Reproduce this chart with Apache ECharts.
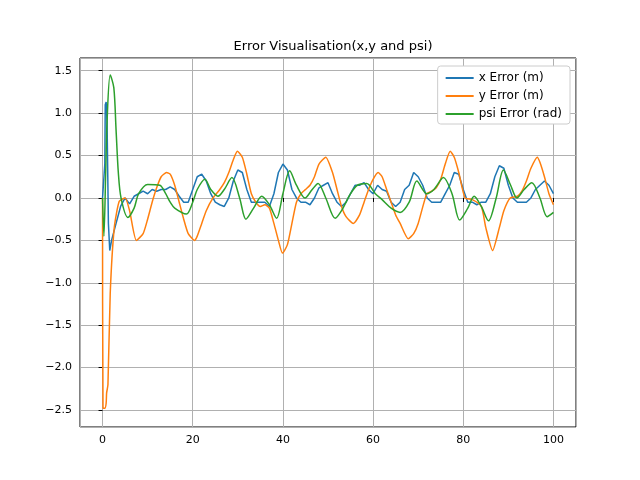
<!DOCTYPE html>
<html>
<head>
<meta charset="utf-8">
<script src="https://cdn.jsdelivr.net/npm/echarts@6/dist/echarts.min.js"></script>
<style>body{margin:0}#chart{width:640px;height:480px}</style>
</head>
<body>
<div id="chart"></div>
<script>
// values
var xTime = [0,0.5,0.6,0.8,1,1.3,1.6,2,3,4,5,6,7,8,9,10,11,12,13,14,15,16,17,18,19,20,21,22,23,24,25,26,27,28,29,30,31,32,33,34,35,36,37,38,39,40,41,42,43,44,45,46,47,48,49,50,51,52,53,54,55,56,57,58,59,60,61,62,63,64,65,66,67,68,69,70,71,72,73,74,75,76,77,78,79,80,81,82,83,84,85,86,87,88,89,90,91,92,93,94,95,96,97,98,99,100];
var xErr = [0,0.4,1.1,1.13,0.9,-0.3,-0.62,-0.5,-0.3,-0.1,0.0,-0.07,0.02,0.05,0.08,0.05,0.1,0.08,0.1,0.1,0.13,0.1,0.02,-0.05,-0.05,0.1,0.25,0.28,0.2,0.05,-0.05,-0.08,-0.1,0.0,0.2,0.33,0.3,0.1,-0.05,-0.05,-0.05,-0.05,-0.1,0.05,0.3,0.4,0.33,0.1,0.0,-0.05,-0.05,-0.08,0.0,0.12,0.15,0.18,0.05,-0.05,-0.1,-0.05,0.05,0.15,0.15,0.18,0.1,0.05,0.15,0.1,0.08,-0.05,-0.1,-0.05,0.1,0.15,0.3,0.25,0.15,0.0,-0.05,-0.05,-0.05,0.05,0.15,0.3,0.28,0.1,-0.05,-0.05,-0.08,-0.05,-0.05,0.05,0.25,0.38,0.35,0.15,0.0,-0.05,-0.05,-0.05,0.0,0.1,0.15,0.2,0.15,0.05,-0.05];
var yTime = [0,0.1,0.5,0.8,0.9,1.2,1.7,2.6,3.7,5,6,7.5,9,10,11,12,13,14.2,15,16,17,18,19,20.4,21,22,23,24.5,26,27,28,29,29.9,31,32,33,34,35,36,37,38,39,39.9,41,42,43,44,45,46,47,48,49.5,51,52,53,54,55.6,57,58,59,60,61.1,62,63,64,65,66,67.8,69,70,71.9,73,74,75,76,77.1,78,79,80.4,82,84,85,86.5,88,89,90.4,92,93,94,95,96.4,97,98,99,100];
var yErr = [0,-2.48,-2.48,-2.42,-2.3,-2.2,-1.13,-0.35,-0.04,0.0,-0.15,-0.5,-0.42,-0.25,-0.05,0.12,0.25,0.3,0.28,0.15,-0.05,-0.25,-0.42,-0.5,-0.45,-0.3,-0.15,0.0,0.1,0.18,0.3,0.45,0.55,0.48,0.28,0.05,-0.05,-0.1,-0.08,-0.12,-0.3,-0.5,-0.65,-0.55,-0.3,-0.05,0.05,0.1,0.15,0.25,0.4,0.48,0.3,0.1,-0.1,-0.22,-0.3,-0.2,-0.05,0.1,0.22,0.3,0.25,0.1,-0.05,-0.2,-0.3,-0.48,-0.42,-0.3,0.05,0.08,0.12,0.22,0.4,0.55,0.48,0.3,0.0,-0.02,-0.1,-0.35,-0.62,-0.35,-0.15,0.0,0.02,0.08,0.2,0.35,0.48,0.42,0.25,0.05,-0.08];
var psiTime = [0,0.3,0.7,1,1.7,2.5,3,3.5,4.1,5.6,7,8,10,12.7,14,15,16,18.6,20,21,22.7,24,25.6,27,28.7,30.4,31.8,33.5,35.3,37,38.6,40,41.5,43,44.9,46.5,47.8,49.5,51.6,53,55,56.5,58.6,60.5,62,64,66,68,69.7,71.9,73.5,75.6,77.5,79.2,81,82.4,84,85.6,87.3,88.9,90.5,91.9,93.5,95.2,97,98.6,100];
var psiErr = [0,-0.45,0.3,0.9,1.45,1.3,0.8,0.3,0.0,-0.23,-0.12,0.05,0.16,0.15,0.05,-0.05,-0.12,-0.19,-0.05,0.1,0.22,0.1,0.02,0.1,0.24,0.0,-0.25,-0.12,0.02,-0.08,-0.24,0.05,0.32,0.15,0.0,0.1,0.17,0.0,-0.24,-0.15,0.05,0.15,0.17,0.05,-0.02,-0.12,-0.17,-0.05,0.2,0.05,0.1,0.24,0.05,-0.26,-0.12,0.02,-0.1,-0.27,0.0,0.33,0.15,0.0,0.1,0.18,0.0,-0.22,-0.17];

function pairs(t, v) {
    var out = [];
    for (var i = 0; i < t.length; i++) out.push([t[i], v[i]]);
    return out;
}
function minus(s) { return String(s).replace('-', '\u2212'); }

var chart = echarts.init(document.getElementById('chart'));
var option = {
    animation: false,
    color: ['#1f77b4', '#ff7f0e', '#2ca02c'],
    title: {
        text: 'Error Visualisation(x,y and psi)',
        left: 328, top: 35, textAlign: 'center',
        textStyle: {fontFamily: 'DejaVu Sans', fontSize: 13, fontWeight: 'normal', color: '#000'}
    },
    legend: {
        orient: 'vertical', right: 70, top: 66,
        backgroundColor: '#fff', borderColor: '#ccc', borderWidth: 1, borderRadius: 3,
        padding: [6, 8, 4, 8], itemGap: 6, itemWidth: 28, itemHeight: 2,
        icon: 'rect',
        textStyle: {fontFamily: 'DejaVu Sans', fontSize: 12, color: '#000'},
        data: ['x Error (m)', 'y Error (m)', 'psi Error (rad)']
    },
    grid: {left: 80, right: 64, top: 58, bottom: 53, show: true, borderColor: '#000', borderWidth: 1},
    xAxis: {
        type: 'value', min: -5, max: 105, splitNumber: 5,
        axisLine: {show: false},
        axisTick: {show: true, length: 4, lineStyle: {color: '#000'}},
        axisLabel: {showMinLabel: false, showMaxLabel: false, color: '#000', fontFamily: 'DejaVu Sans', fontSize: 11, formatter: minus},
        splitLine: {show: true, lineStyle: {color: '#b0b0b0', width: 1}}
    },
    yAxis: {
        type: 'value', min: -2.70, max: 1.65, splitNumber: 9,
        axisLine: {show: false},
        axisTick: {show: true, length: 4, lineStyle: {color: '#000'}},
        axisLabel: {showMinLabel: false, showMaxLabel: false, color: '#000', fontFamily: 'DejaVu Sans', fontSize: 11,
            formatter: function (v) { return minus(v.toFixed(1)); }},
        splitLine: {show: true, lineStyle: {color: '#b0b0b0', width: 1}}
    },
    series: [
        {name: 'x Error (m)', type: 'line', showSymbol: false, lineStyle: {width: 1.5}, data: pairs(xTime, xErr)},
        {name: 'y Error (m)', type: 'line', smooth: 0.2, showSymbol: false, lineStyle: {width: 1.5}, data: pairs(yTime, yErr)},
        {name: 'psi Error (rad)', type: 'line', smooth: 0.3, showSymbol: false, lineStyle: {width: 1.5}, data: pairs(psiTime, psiErr)}
    ]
};
chart.setOption(option);
</script>
</body>
</html>
